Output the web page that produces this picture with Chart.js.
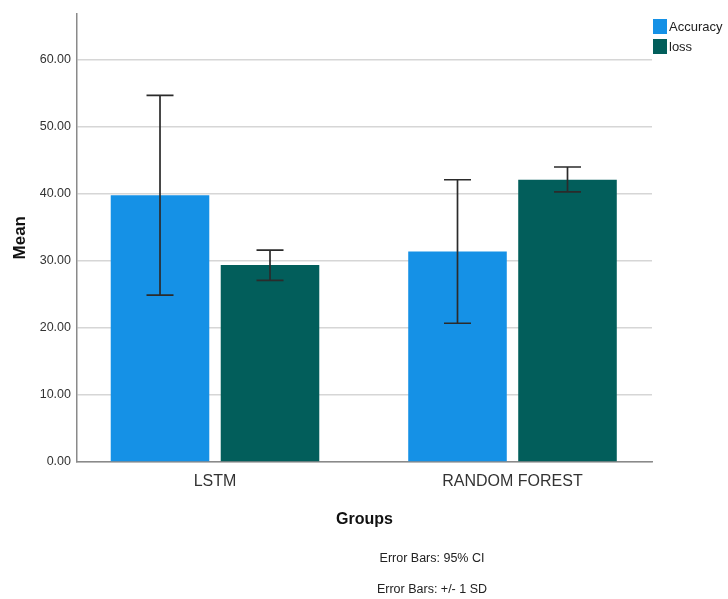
<!DOCTYPE html>
<html>
<head>
<meta charset="utf-8">
<script src="https://cdn.jsdelivr.net/npm/chart.js@4.4.0/dist/chart.umd.min.js"></script>
<style>
  html, body { margin: 0; padding: 0; background: #fff; }
  #wrap { position: relative; width: 728px; height: 599px; overflow: hidden; font-family: "Liberation Sans", Arial, sans-serif; }
  #c { position: absolute; left: 0; top: 0; }
  #legend { position: absolute; left: 653px; top: 16px; }
  .li { display: flex; align-items: center; height: 20px; font-size: 13px; color: #222; }
  .sw { width: 14px; height: 15px; margin-right: 2px; }
  .note { position: absolute; width: 240px; left: 312px; text-align: center; font-size: 12.5px; color: #222; line-height: 16px; }
</style>
</head>
<body>
<div id="wrap">
  <canvas id="c" width="728" height="599"></canvas>
  <div id="legend"></div>
  <div class="note" style="top:550px;">Error Bars: 95% CI</div>
  <div class="note" style="top:581px;">Error Bars: +/- 1 SD</div>
</div>
<script>
// ---- data ----
const groups = ["LSTM", "RANDOM FOREST"];
const seriesNames = ["Accuracy", "loss"];
const accuracyMean = [39.8, 31.4];
const accuracyLow  = [24.9, 20.7];
const accuracyHigh = [54.7, 42.1];
const lossMean = [29.4, 42.1];
const lossLow  = [27.1, 40.3];
const lossHigh = [31.6, 44.0];
const yTickValues = [0, 10, 20, 30, 40, 50, 60];

const colors = ["#1591E6", "#025E5B"];
const means = [accuracyMean, lossMean];
const lows = [accuracyLow, lossLow];
const highs = [accuracyHigh, lossHigh];

const datasets = seriesNames.map((name, s) => ({
  label: name,
  data: groups.map((g, i) => ({ x: i, y: means[s][i] })),
  backgroundColor: colors[s],
  borderWidth: 0,
  categoryPercentage: 0.7395,
  barPercentage: 0.896,
  errLow: lows[s],
  errHigh: highs[s]
}));

const errorBars = {
  id: "errorBars",
  afterDatasetsDraw(chart) {
    const ctx = chart.ctx;
    const ys = chart.scales.y;
    ctx.save();
    ctx.strokeStyle = "#2b2b2b";
    ctx.lineWidth = 1.7;
    chart.data.datasets.forEach((ds, di) => {
      const meta = chart.getDatasetMeta(di);
      meta.data.forEach((el, i) => {
        const x = el.x;
        const yl = ys.getPixelForValue(ds.errLow[i]);
        const yh = ys.getPixelForValue(ds.errHigh[i]);
        const cap = 13.5;
        ctx.beginPath();
        ctx.moveTo(x, yl); ctx.lineTo(x, yh);
        ctx.moveTo(x - cap, yl); ctx.lineTo(x + cap, yl);
        ctx.moveTo(x - cap, yh); ctx.lineTo(x + cap, yh);
        ctx.stroke();
      });
    });
    ctx.restore();
  }
};

const FONT = "'Liberation Sans', Arial, sans-serif";

new Chart(document.getElementById("c"), {
  type: "bar",
  data: { datasets },
  options: {
    responsive: false,
    animation: false,
    events: [],
    layout: { padding: { left: 0, top: 13, right: 76, bottom: 57 } },
    plugins: { legend: { display: false }, tooltip: { enabled: false } },
    scales: {
      x: {
        type: "linear",
        offset: false,
        min: -0.4639,
        max: 1.4689,
        afterBuildTicks(scale) { scale.ticks = groups.map((g, i) => ({ value: i })); },
        afterFit(scale) { scale.height = 80; },
        ticks: {
          callback: (v) => groups[v] ?? "",
          font: { family: FONT, size: 16 },
          color: "#333",
          padding: 10,
          maxRotation: 0,
          autoSkip: false
        },
        grid: { display: false, drawTicks: false },
        border: { display: true, color: "#8a8a8a", width: 1.5 },
        title: {
          display: true,
          text: "Groups",
          font: { family: FONT, size: 16, weight: "bold" },
          color: "#111",
          padding: { top: 0, bottom: 12.4 }
        }
      },
      y: {
        min: 0,
        max: 66.9,
        afterBuildTicks(scale) { scale.ticks = yTickValues.map(v => ({ value: v })); },
        afterFit(scale) { scale.width = 77; },
        ticks: {
          callback: (v) => Number(v).toFixed(2),
          font: { family: FONT, size: 12.5 },
          color: "#333",
          padding: 6
        },
        grid: { color: "#d6d6d6", lineWidth: 1.5, drawTicks: false },
        border: { display: true, color: "#8a8a8a", width: 1.5 },
        title: {
          display: true,
          text: "Mean",
          font: { family: FONT, size: 17, weight: "bold" },
          color: "#111",
          padding: { top: 10, bottom: 0 }
        }
      }
    }
  },
  plugins: [errorBars]
});

// HTML legend built from the datasets
const lg = document.getElementById("legend");
datasets.forEach(ds => {
  const row = document.createElement("div");
  row.className = "li";
  const sw = document.createElement("span");
  sw.className = "sw";
  sw.style.background = ds.backgroundColor;
  const t = document.createElement("span");
  t.textContent = ds.label;
  row.appendChild(sw); row.appendChild(t);
  lg.appendChild(row);
});
</script>
</body>
</html>
